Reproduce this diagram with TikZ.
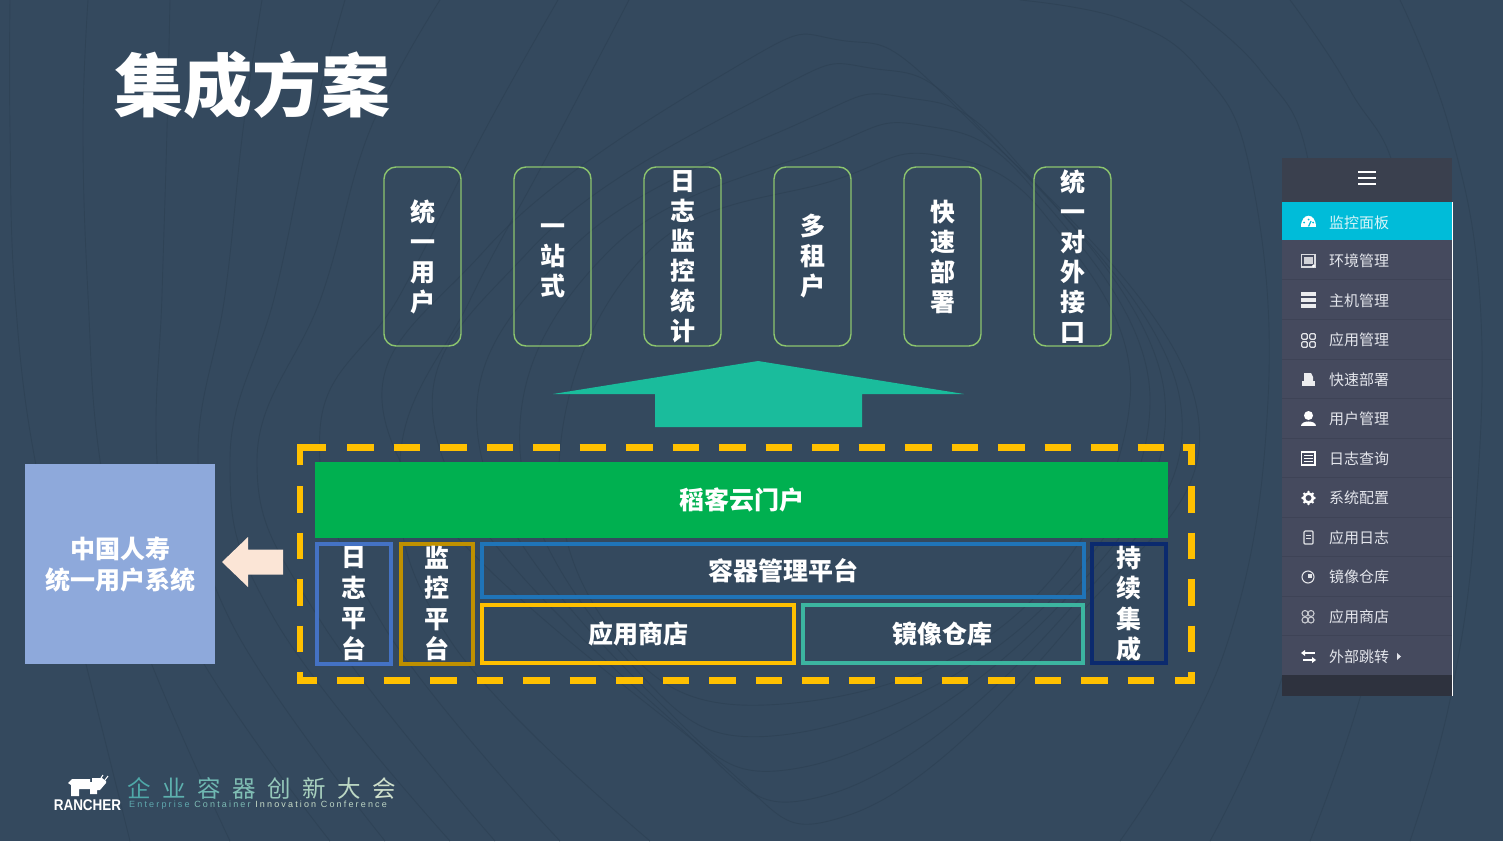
\documentclass[tikz,border=0pt]{standalone}
\usepackage{fontspec}
\setmainfont{Noto Sans CJK SC}
\newfontfamily\latinwide[LetterSpace=24]{Liberation Sans}
\newfontfamily\latinbold{Liberation Sans}
\usetikzlibrary{calc}
\definecolor{bgc}{HTML}{34495E}
\definecolor{bgl}{HTML}{2C3F52}
\definecolor{menuc}{HTML}{454A5E}
\definecolor{menuh}{HTML}{3A404E}
\definecolor{menuf}{HTML}{2E323E}
\definecolor{menusep}{HTML}{3E4356}
\definecolor{cyanc}{HTML}{00BCD9}
\definecolor{featc}{HTML}{8CC56E}
\definecolor{arrowc}{HTML}{1ABC9C}
\definecolor{goldc}{HTML}{FFC000}
\definecolor{greenc}{HTML}{00B050}
\definecolor{bluesys}{HTML}{8EA9DB}
\definecolor{peach}{HTML}{FBE5D6}
\definecolor{logb}{HTML}{4472C4}
\definecolor{monb}{HTML}{BF9000}
\definecolor{conb}{HTML}{1F74B8}
\definecolor{imgb}{HTML}{3CB5A0}
\definecolor{cib}{HTML}{0B2A6E}
\definecolor{menut}{HTML}{E4E6EC}
\tikzset{
  x=1pt,y=-1pt,
  feat/.style={draw=featc,line width=1.4pt,rounded corners=12pt,minimum width=77pt,minimum height=179pt,inner sep=0pt,text=white,align=center,font=\fontsize{25}{30}\selectfont\bfseries},
  plat/.style={draw=#1,line width=4pt,inner sep=0pt,text=white,align=center,font=\fontsize{25}{30.5}\selectfont\bfseries},
  lbl/.style={text=white,inner sep=0pt,align=center,font=\fontsize{25}{31}\selectfont\bfseries},
  menuitem/.style={anchor=west,inner sep=0pt,text=menut,font=\fontsize{15}{15}\selectfont},
  contour/.style={draw=bgl,line width=0.9pt,opacity=0.6},
  dashline/.style={goldc,line width=6.5pt,dash pattern=on 26.5pt off 20pt},
  dashcorner/.style={goldc,line width=6.5pt,miter limit=10},
  icon/.style={draw=white,line width=1.3pt}
}
\begin{document}
\begin{tikzpicture}
\useasboundingbox (0,0) rectangle (1503,841);
\fill[bgc] (0,0) rectangle (1503,841);
% faint background contours: nested rings round the centre
\foreach \tx/\ty/\lx/\rx/\bx/\by in {935/155/560/1130/765/705,920/125/520/1150/782/735,902/97/480/1165/804/767,870/68/440/1180/827/795,839/40/395/1195/849/815}{
  \draw[contour] plot[smooth cycle,tension=0.7] coordinates {(\tx,\ty) (\tx+110,\ty+60) (\rx,400) (\rx-120,620) (\bx,\by) (\bx-150,\by-70) (\lx,450) (\lx+90,250) (\tx-100,\ty+25)};
}
% left fan
\draw[contour] plot[smooth,tension=0.7] coordinates {(10,0) (10,130) (15,295) (35,460) (75,620) (130,841)};
\draw[contour] plot[smooth,tension=0.7] coordinates {(88,0) (83,130) (88,295) (100,460) (135,620) (230,841)};
\draw[contour] plot[smooth,tension=0.7] coordinates {(170,0) (167,130) (162,295) (157,460) (180,620) (330,841)};
\draw[contour] plot[smooth,tension=0.7] coordinates {(262,0) (243,130) (225,295) (198,460) (230,620) (385,841)};
\draw[contour] plot[smooth,tension=0.7] coordinates {(345,0) (310,130) (275,295) (230,460) (275,620) (450,841)};
\draw[contour] plot[smooth,tension=0.7] coordinates {(440,0) (370,130) (322,295) (257,460) (320,620) (495,841)};
\draw[contour] plot[smooth,tension=0.7] coordinates {(558,0) (485,130) (400,295) (320,430) (380,620) (560,841)};
\draw[contour] plot[smooth,tension=0.7] coordinates {(629,0) (545,160) (470,300) (400,460) (450,640) (650,841)};
% right fan
\draw[contour] plot[smooth,tension=0.7] coordinates {(1020,0) (1125,20) (1200,70) (1250,170) (1268,400) (1225,650) (1120,841)};
\draw[contour] plot[smooth,tension=0.7] coordinates {(1180,0) (1260,70) (1310,170) (1320,400) (1290,650) (1210,841)};
\draw[contour] plot[smooth,tension=0.7] coordinates {(1290,0) (1350,90) (1400,200) (1400,450) (1370,660) (1310,841)};
\draw[contour] plot[smooth,tension=0.7] coordinates {(1400,0) (1450,130) (1480,300) (1475,520) (1450,700) (1410,841)};

\node[text=white,inner sep=0pt,font=\fontsize{69}{69}\selectfont\bfseries] (title) at (252,85) {集成方案};

% feature boxes
\node[feat] (f1) at (422.5,256.5) {统\\一\\用\\户};
\node[feat] (f2) at (552.5,256.5) {};
\node[text=white,inner sep=0pt,align=center,font=\fontsize{25}{30}\selectfont\bfseries] (f2t) at (552.5,261) {一\\站\\式};
\node[feat] (f3) at (682.5,256.5) {日\\志\\监\\控\\统\\计};
\node[feat] (f4) at (812.5,256.5) {多\\租\\户};
\node[feat] (f5) at (942.5,256.5) {快\\速\\部\\署};
\node[feat] (f6) at (1072.5,256.5) {统\\一\\对\\外\\接\\口};

% up arrow
\fill[arrowc] (758,361) -- (964,394) -- (862,394) -- (862,427) -- (655,427) -- (655,394) -- (553,394) -- cycle;

% dashed frame
\draw[dashline] (347,447.5) -- (1164,447.5);
\draw[dashline] (337,680.5) -- (1155,680.5);
\draw[dashline] (300,486) -- (300,652);
\draw[dashline] (1191.5,486) -- (1191.5,652);
\draw[dashcorner] (300,465) -- (300,447.5) -- (326,447.5);
\draw[dashcorner] (1183,447.5) -- (1191.5,447.5) -- (1191.5,465);
\draw[dashcorner] (1191.5,672) -- (1191.5,680.5) -- (1175,680.5);
\draw[dashcorner] (300,672) -- (300,680.5) -- (317,680.5);

% portal
\node[fill=greenc,minimum width=853pt,minimum height=76pt,inner sep=0pt,text=white,font=\fontsize{25}{30}\selectfont\bfseries] (portal) at (741.5,500) {稻客云门户};

% platforms
\node[plat=logb,minimum width=74pt,minimum height=120pt] (logp) at (354,603.5) {日\\志\\平\\台};
\node[plat=monb,minimum width=72pt,minimum height=120pt] (monp) at (436.5,603.5) {监\\控\\平\\台};
\node[plat=conb,minimum width=602pt,minimum height=53pt] (conp) at (783,570.5) {容器管理平台};
\node[plat=goldc,minimum width=312pt,minimum height=58pt] (appp) at (638,633.5) {应用商店};
\node[plat=imgb,minimum width=280pt,minimum height=58pt] (imgp) at (942.5,633.5) {镜像仓库};
\node[plat=cib,minimum width=74pt,minimum height=119pt] (cip) at (1129,603.5) {持\\续\\集\\成};

% user system
\node[fill=bluesys,minimum width=190pt,minimum height=200pt,inner sep=0pt] (sys) at (120,564) {};
\node[lbl] (systext) at (120,564.5) {中国人寿\\统一用户系统};
\fill[peach] (222,562) -- (248,537) -- (248,549.5) -- (283,549.5) -- (283,574.5) -- (248,574.5) -- (248,587) -- cycle;

% side menu
\fill[menuh] (1282,158) rectangle (1452,202);
\fill[menuc] (1282,240) rectangle (1452,675);
\fill[menuf] (1282,675) rectangle (1452,696);
\fill[cyanc] (1282,202) rectangle (1452,240);
\draw[white,line width=1pt] (1452,202) -- (1452,696);
\foreach \yy in {279,319,359,398,438,477,517,556,596,635}{\draw[menusep,line width=1pt] (1282,\yy) -- (1452,\yy);}
\foreach \yy in {172,178,184}{\draw[white,line width=1.6pt] (1358,\yy) -- (1376,\yy);}

\node[menuitem,text=white!85!cyanc] (m1) at (1329,222.5) {监控面板};
\node[menuitem] (m2) at (1329,261) {环境管理};
\node[menuitem] (m3) at (1329,300.5) {主机管理};
\node[menuitem] (m4) at (1329,340) {应用管理};
\node[menuitem] (m5) at (1329,380) {快速部署};
\node[menuitem] (m6) at (1329,419) {用户管理};
\node[menuitem] (m7) at (1329,458.5) {日志查询};
\node[menuitem] (m8) at (1329,498) {系统配置};
\node[menuitem] (m9) at (1329,537.5) {应用日志};
\node[menuitem] (m10) at (1329,577) {镜像仓库};
\node[menuitem] (m11) at (1329,617) {应用商店};
\node[menuitem] (m12) at (1329,656.5) {外部跳转};
\fill[menut] (1397,653) -- (1401,656.5) -- (1397,660) -- cycle;

% menu icons
\fill[white] (1301,227) .. controls (1301,212) and (1316,212) .. (1316,227) -- cycle;
\draw[cyanc,line width=1.2pt] (1308.5,226.5) -- (1311,221);
\fill[cyanc] (1304,222.5) circle (1pt) (1308.5,219.5) circle (1pt) (1313,222.5) circle (1pt);
\draw[white!80!menuc,line width=1.3pt] (1301.5,254.5) rectangle (1315,267);
\fill[white!75!menuc] (1304,257) rectangle (1312.5,264);
\fill[white] (1313.5,266) circle (1.6pt);
\foreach \yy in {294,300,306}{\fill[white!90!menuc] (1301,\yy-2.3) rectangle (1316,\yy+2);}
\foreach \xx/\yy in {1304.5/336.5,1312.5/336.5,1304.5/344.5,1312.5/344.5}{\draw[white!85!menuc,line width=1.2pt,rounded corners=1pt] (\xx-2.7,\yy-2.7) rectangle (\xx+2.7,\yy+2.7);}
\fill[white!90!menuc] (1304,373) -- (1311,373) -- (1313,377) -- (1313,381) -- (1304,381) -- cycle;
\fill[white!90!menuc] (1302,381) rectangle (1315,386);
\fill[white] (1308.5,415.5) circle (4.5pt);
\fill[white] (1301,426) .. controls (1301,420) and (1316,420) .. (1316,426) -- cycle;
\draw[icon] (1301.5,452) rectangle (1315,465);
\foreach \yy in {455.5,458.5,461.5}{\draw[white,line width=1pt] (1304,\yy) -- (1312.5,\yy);}
\draw[white,line width=2.6pt] (1308.5,498) circle (4.5pt);
\foreach \aa in {0,45,...,315}{\fill[white] ($(1308.5,498)+(\aa:6)$) circle (1.3pt);}
\draw[white!85!menuc,line width=1.1pt,rounded corners=1pt] (1304,531) rectangle (1313,544);
\draw[white!85!menuc,line width=1pt] (1306,535) -- (1311,535) (1306,538) -- (1311,538);
\draw[white!85!menuc,line width=1.1pt] (1308,577) circle (6pt);
\fill[white!85!menuc] (1308,574) rectangle (1312,578);
\foreach \xx in {1305,1311}{\foreach \vv in {613.5,620}{\draw[white!70!menuc,line width=1.1pt] (\xx,\vv) circle (3pt);}}
\draw[white,line width=1.3pt] (1303,653) -- (1315,653) (1303,660) -- (1315,660);
\fill[white] (1301,653) -- (1305,650) -- (1305,656) -- cycle;
\fill[white] (1316,660) -- (1312,657) -- (1312,663) -- cycle;

% rancher logo
\fill[white] (68,783) -- (72,779) -- (90,779) -- (90,782) -- (92,782) -- (92,778) -- (102,778) -- (106,781) -- (106,783) -- (100,790) -- (97,790) -- (97,794) -- (90,794) -- (90,789) -- (79,789) -- (79,796) -- (71,796) -- (71,785) -- cycle;
\draw[white,line width=1pt] (101,778) -- (103,775) (105,780) -- (108,776);
\node[inner sep=0pt,text=white,font=\latinbold\fontsize{15.5}{16}\selectfont\bfseries] (rl) at (87.5,805) {\scalebox{0.87}[1]{RANCHER}};
\node[inner sep=0pt,anchor=west,font=\fontsize{23.5}{24}\selectfont] (cn) at (127,788) {\textcolor[HTML]{4FA8A8}{企}\hspace{11.5pt}\textcolor[HTML]{5DB0AE}{业}\hspace{11.5pt}\textcolor[HTML]{6FB8B2}{容}\hspace{11.5pt}\textcolor[HTML]{80BEB4}{器}\hspace{11.5pt}\textcolor[HTML]{95C8BA}{创}\hspace{11.5pt}\textcolor[HTML]{A8D0BE}{新}\hspace{11.5pt}\textcolor[HTML]{BCD8C4}{大}\hspace{11.5pt}\textcolor[HTML]{CFE0CC}{会}};
\node[inner sep=0pt,anchor=west,font=\latinwide\fontsize{9}{9}\selectfont] (en) at (129,805) {\textcolor[HTML]{5FA8AE}{Enterprise} \textcolor[HTML]{7DBAB4}{Container} \textcolor[HTML]{C8DCC8}{Innovation} \textcolor[HTML]{BCD4C4}{Conference}};
\end{tikzpicture}
\end{document}
